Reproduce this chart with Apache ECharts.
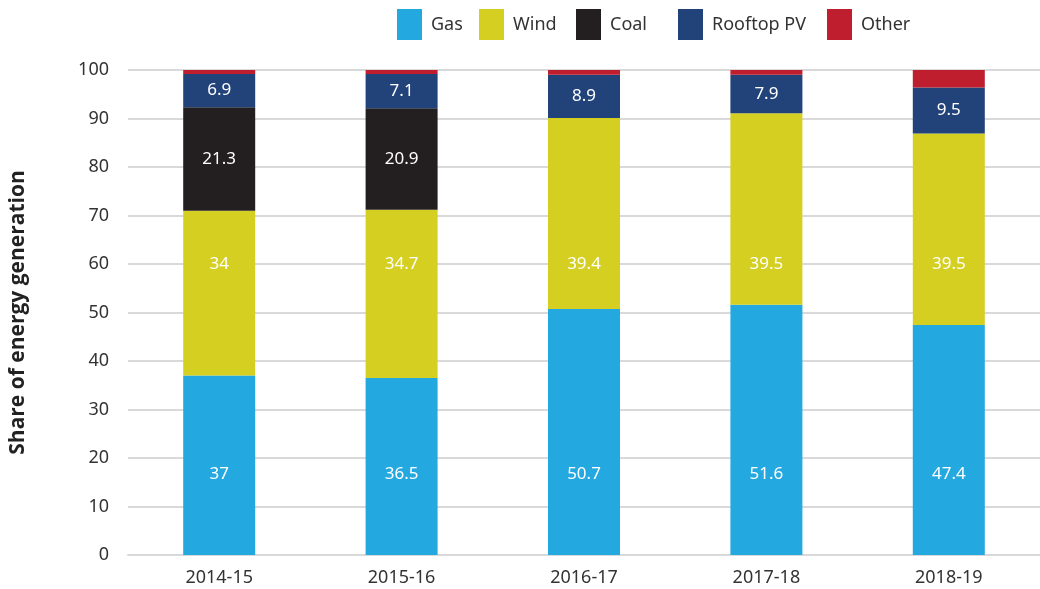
<!DOCTYPE html>
<html><head><meta charset="utf-8">
<script src="https://cdn.jsdelivr.net/npm/echarts@6/dist/echarts.min.js"></script>
<style>html,body{margin:0;padding:0;background:#fff}#c{width:1040px;height:589px}</style>
</head><body><div id="c"></div>
<script>
const categories = ['2014-15','2015-16','2016-17','2017-18','2018-19'];
const gas = [37, 36.5, 50.7, 51.6, 47.4];
const wind = [34, 34.7, 39.4, 39.5, 39.5];
const coal = [21.3, 20.9, null, null, null];
const rooftop = [6.9, 7.1, 8.9, 7.9, 9.5];
const other = [0.8, 0.8, 1.0, 1.0, 3.6];
const seriesNames = ['Gas','Wind','Coal','Rooftop PV','Other'];
const colors = ['#23a8e0','#d5cf22','#231f20','#22427a','#be1e2d'];
const legendLeft = [397, 479, 576, 678, 827];
// in the reference, Gas and Wind value labels sit at fixed heights (axis units)
const GAS_LABEL_AT = 16.6;
const WIND_LABEL_AT = 60;

const font = '"Noto Sans", sans-serif';
const chart = echarts.init(document.getElementById('c'));
const labelStyle = {color: '#fff', fontSize: 17, fontFamily: font, textBorderWidth: 0, opacity: 1};
const mk = (name, data, color, showLabel) => ({
  name, type: 'bar', stack: 'total', data, barWidth: 72,
  itemStyle: {color},
  label: Object.assign({show: showLabel, position: 'inside'}, labelStyle),
  emphasis: {disabled: true}
});
const fixedLabels = (values, at) => ({
  type: 'scatter', data: categories.map((c, i) => [c, at, values[i]]),
  symbolSize: 1, itemStyle: {color: 'rgba(0,0,0,0)'}, silent: true, z: 5,
  label: Object.assign({show: true, position: 'inside', formatter: p => String(p.value[2])}, labelStyle),
  emphasis: {disabled: true}
});
chart.setOption({
  animation: false,
  legend: seriesNames.map((n, i) => ({
    data: [n], left: legendLeft[i], top: 9, padding: 0, itemWidth: 25, itemHeight: 31,
    icon: 'rect', textStyle: {fontSize: 18, color: '#333', fontFamily: font, padding: [0, 0, 0, 4]},
    selectedMode: false
  })),
  grid: {left: 128, right: 0, top: 70, bottom: 34},
  xAxis: {
    type: 'category', data: categories,
    axisLine: {lineStyle: {color: '#d9d9d9', width: 2}},
    axisTick: {show: false},
    axisLabel: {fontSize: 18, color: '#333', fontFamily: font, margin: 14}
  },
  yAxis: {
    type: 'value', min: 0, max: 100, interval: 10,
    name: 'Share of energy generation', nameLocation: 'middle', nameGap: 99,
    nameTextStyle: {fontSize: 21, fontWeight: 'bold', color: '#222', fontFamily: '"Open Sans", sans-serif'},
    axisLine: {show: false}, axisTick: {show: false},
    axisLabel: {fontSize: 18, color: '#333', fontFamily: font, margin: 19},
    splitLine: {lineStyle: {color: '#d9d9d9', width: 2}}
  },
  series: [
    mk('Gas', gas, colors[0], false),
    mk('Wind', wind, colors[1], false),
    mk('Coal', coal, colors[2], true),
    mk('Rooftop PV', rooftop, colors[3], true),
    mk('Other', other, colors[4], false),
    fixedLabels(gas, GAS_LABEL_AT),
    fixedLabels(wind, WIND_LABEL_AT)
  ]
});
</script></body></html>
